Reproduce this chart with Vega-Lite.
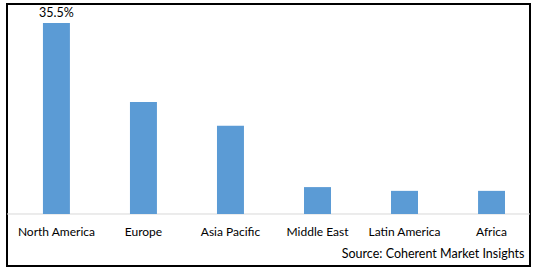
{
  "$schema": "https://vega.github.io/schema/vega-lite/v6.json",
  "width": 523,
  "height": 262,
  "autosize": "none",
  "padding": {"left": 7, "top": 4, "right": 9, "bottom": 6},
  "background": "white",
  "view": {"stroke": "#000000", "strokeWidth": 2, "fill": "white"},
  "config": {
    "view": {"stroke": "#000000", "strokeWidth": 2},
    "font": "Lato"
  },
  "title": {
    "text": "Source: Coherent Market Insights",
    "orient": "bottom",
    "anchor": "end",
    "fontSize": 12.5,
    "fontWeight": "normal",
    "color": "#000000",
    "offset": -18,
    "dx": -6
  },
  "data": {
    "values": [
      {"region": "North America", "share": 35.5, "label": "35.5%"},
      {"region": "Europe", "share": 20.8},
      {"region": "Asia Pacific", "share": 16.4},
      {"region": "Middle East", "share": 5.0},
      {"region": "Latin America", "share": 4.3},
      {"region": "Africa", "share": 4.3}
    ]
  },
  "layer": [
    {
      "data": {"values": [{"zero": 0}]},
      "mark": {"type": "rule", "color": "#d9d9d9", "strokeWidth": 1},
      "encoding": {
        "y": {"field": "zero", "type": "quantitative", "scale": {"domain": [-9.665, 39.03], "nice": false, "zero": false}, "axis": null}
      }
    },
    {
      "mark": {"type": "bar", "color": "#5B9BD5"},
      "encoding": {
        "x": {
          "field": "region",
          "type": "nominal",
          "sort": null,
          "scale": {"paddingInner": 0.69, "paddingOuter": 0.35, "align": 0.59},
          "axis": {
            "orient": "bottom",
            "title": null,
            "domain": false,
            "ticks": false,
            "grid": false,
            "labelAngle": 0,
            "labelFontSize": 12,
            "labelColor": "#000000",
            "labelPadding": 4,
            "offset": -44
          }
        },
        "y": {"field": "share", "type": "quantitative", "scale": {"domain": [-9.665, 39.03], "nice": false, "zero": false}, "axis": null}
      }
    },
    {
      "transform": [{"filter": "isValid(datum.label)"}],
      "mark": {"type": "text", "baseline": "bottom", "dy": -3, "fontSize": 12.5, "color": "#000000"},
      "encoding": {
        "x": {"field": "region", "type": "nominal", "sort": null},
        "y": {"field": "share", "type": "quantitative"},
        "text": {"field": "label"}
      }
    }
  ]
}
